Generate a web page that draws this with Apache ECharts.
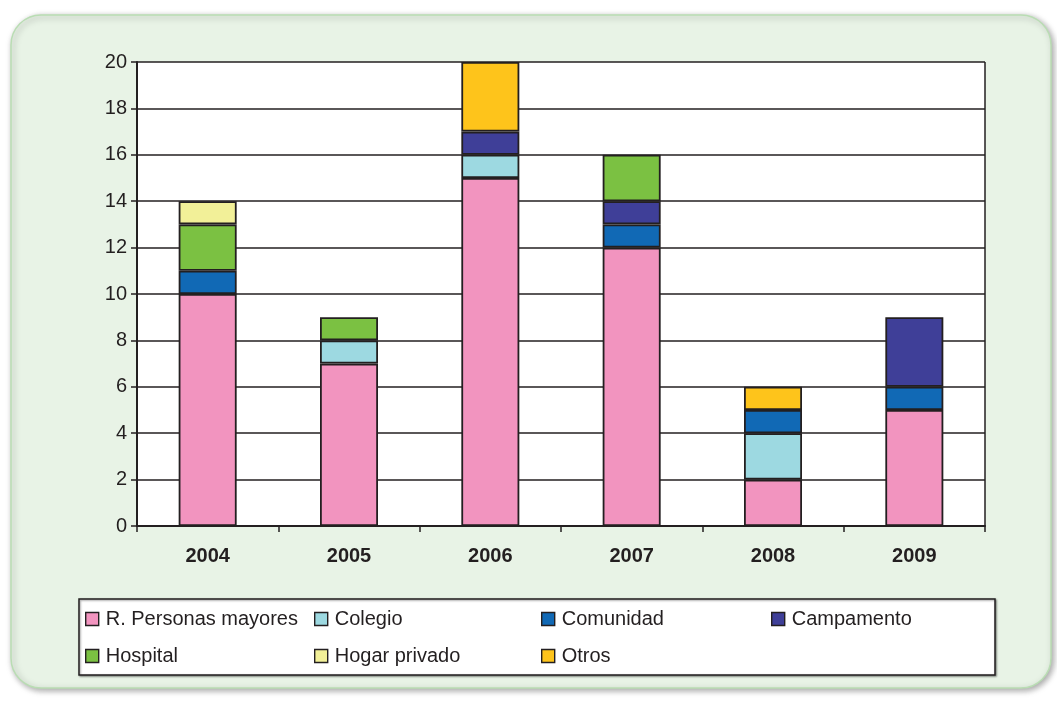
<!DOCTYPE html>
<html>
<head>
<meta charset="utf-8">
<script src="https://cdn.jsdelivr.net/npm/echarts@6/dist/echarts.min.js"></script>
<style>
html,body{margin:0;padding:0;background:#fff;}
#chart{width:1057px;height:704px;}
</style>
</head>
<body>
<div id="chart"></div>
<script>
var years = ['2004', '2005', '2006', '2007', '2008', '2009'];
var seriesNames = ['R. Personas mayores', 'Colegio', 'Comunidad', 'Campamento', 'Hospital', 'Hogar privado', 'Otros'];
var personasMayores = [10, 7, 15, 12, 2, 5];
var colegio = [0, 1, 1, 0, 2, 0];
var comunidad = [1, 0, 0, 1, 1, 1];
var campamento = [0, 0, 1, 1, 0, 3];
var hospital = [2, 1, 0, 2, 0, 0];
var hogarPrivado = [1, 0, 0, 0, 0, 0];
var otros = [0, 0, 3, 0, 1, 0];
var yTicks = [0, 2, 4, 6, 8, 10, 12, 14, 16, 18, 20];

var seriesData = [personasMayores, colegio, comunidad, campamento, hospital, hogarPrivado, otros];
var colors = ['#f294bf', '#9dd9e1', '#1169b5', '#3f3f98', '#7bc142', '#f2f098', '#fec41b'];
// legend slots: [left, top]
var legendPos = [[85, 609], [314, 609], [541, 609], [771, 609], [85, 646], [314, 646], [541, 646]];

initchart();

function initchart(){
    var myChart = echarts.init(document.getElementById('chart'));
    var font = 'Liberation Sans, Arial, sans-serif';

    var series = seriesNames.map(function (name, i) {
        return {
            name: name,
            type: 'bar',
            stack: 'total',
            barWidth: 58,
            data: seriesData[i].map(function (v) { return v === 0 ? '-' : v; }),
            itemStyle: {color: colors[i], borderColor: '#231f20', borderWidth: 1.8},
            emphasis: {disabled: true}
        };
    });

    var legends = seriesNames.map(function (name, i) {
        return {
            data: [name],
            left: legendPos[i][0],
            top: legendPos[i][1],
            icon: 'rect',
            itemWidth: 13,
            itemHeight: 13,
            itemGap: 5,
            padding: 0,
            selectedMode: false,
            itemStyle: {borderColor: '#231f20', borderWidth: 1.4},
            textStyle: {fontFamily: font, fontSize: 20, color: '#231f20', padding: [0, 0, 0, 2]}
        };
    });

    var option = {
        animation: false,
        color: colors,
        graphic: [
            {
                type: 'rect', z: -10, silent: true,
                shape: {x: 11, y: 15, width: 1040, height: 673, r: 30},
                style: {fill: '#e8f3e6', stroke: '#b9ddb3', lineWidth: 1.5,
                    shadowBlur: 6, shadowOffsetX: 2, shadowOffsetY: 2, shadowColor: 'rgba(0,0,0,0.35)'}
            },
            {
                type: 'rect', z: -5, silent: true,
                shape: {x: 79, y: 599, width: 916, height: 76},
                style: {fill: '#ffffff', stroke: '#231f20', lineWidth: 1.5,
                    shadowBlur: 2, shadowOffsetX: 1, shadowOffsetY: 1, shadowColor: 'rgba(0,0,0,0.4)'}
            }
        ],
        legend: legends,
        grid: {left: 137, right: 72, top: 62, bottom: 178, show: true, backgroundColor: '#ffffff', borderWidth: 0},
        xAxis: {
            type: 'category',
            data: years,
            axisLine: {lineStyle: {color: '#231f20', width: 2}},
            axisTick: {show: true, length: 6, lineStyle: {color: '#231f20', width: 1.5}},
            axisLabel: {fontFamily: font, fontSize: 20, fontWeight: 'bold', color: '#231f20', margin: 20},
            splitLine: {show: false}
        },
        yAxis: {
            type: 'value',
            min: yTicks[0],
            max: yTicks[yTicks.length - 1],
            interval: 2,
            axisLine: {show: true, lineStyle: {color: '#231f20', width: 2}},
            axisTick: {show: true, length: 6, lineStyle: {color: '#231f20', width: 1.5}},
            axisLabel: {fontFamily: font, fontSize: 20, color: '#231f20', margin: 10},
            splitLine: {show: true, lineStyle: {color: '#231f20', width: 1.5}}
        },
        series: series.concat([{
            // right border of plot area
            type: 'line', data: [], markLine: {
                silent: true, symbol: 'none', label: {show: false},
                lineStyle: {color: '#231f20', width: 1.5, type: 'solid'},
                data: [[{coord: [5, 0], x: 985}, {x: 985, y: 62}]]
            }
        }])
    };
    myChart.setOption(option);
}
</script>
</body>
</html>
